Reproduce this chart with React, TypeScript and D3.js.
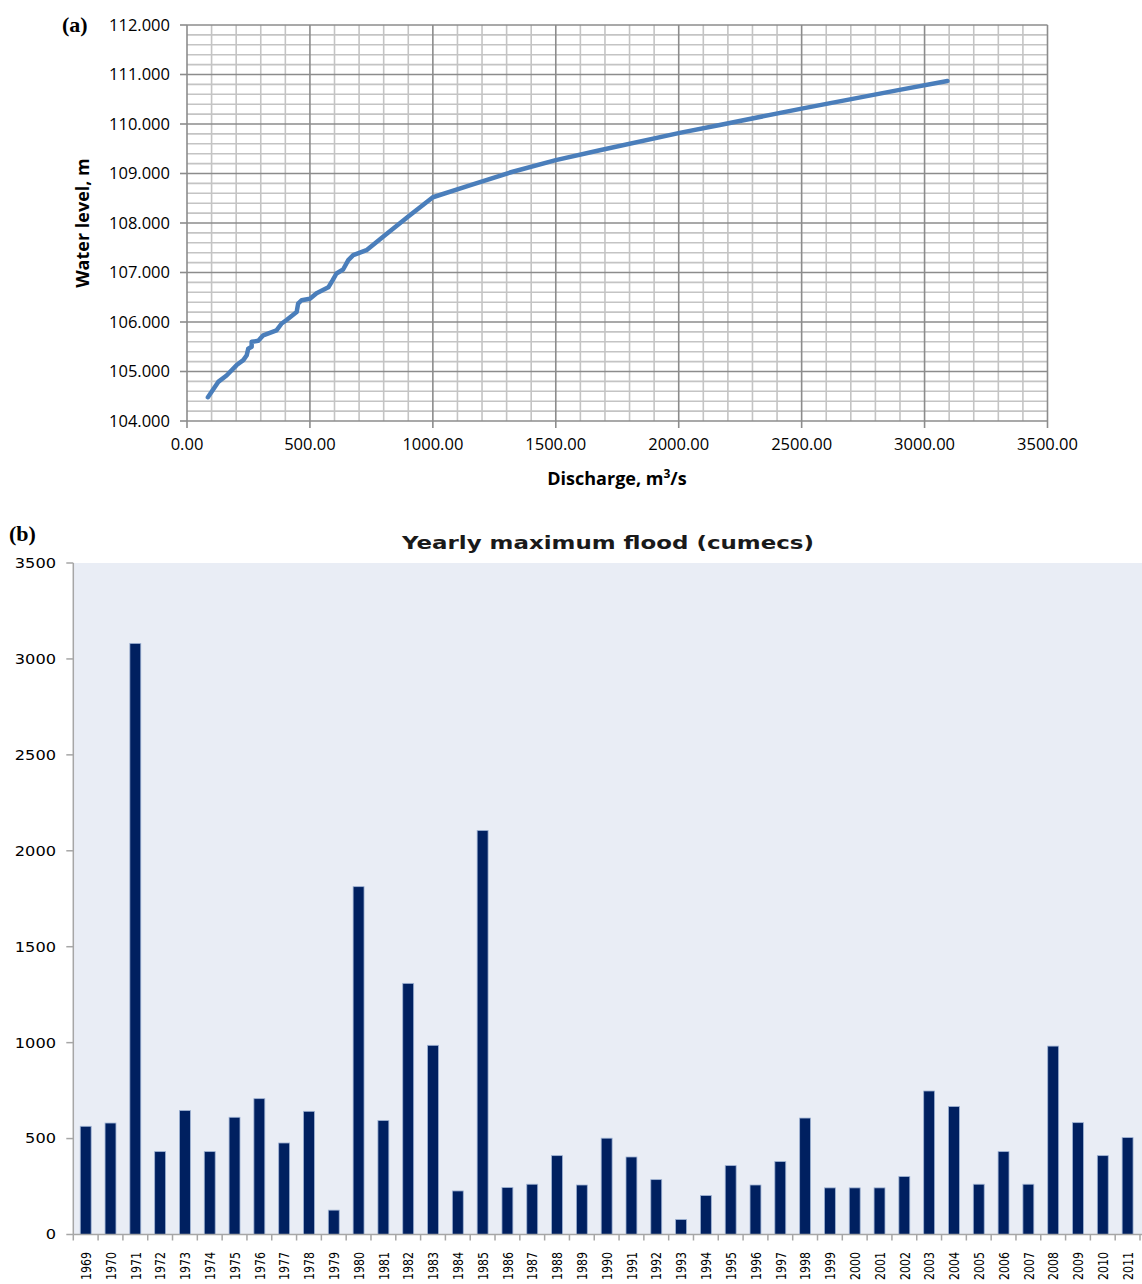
import React from "react";
import * as d3 from "d3";

// ---------- Chart (a): rating curve ----------
const discharge = [85, 127, 161, 202, 229, 243, 249, 263, 263, 290, 310, 364, 385, 405, 446, 452, 466, 500, 527, 575, 592, 608, 635, 656, 676, 730, 800, 900, 1000, 1150, 1321, 1500, 1679, 2004, 2167, 2500, 2898, 3093];
const waterLevel = [104.48, 104.79, 104.92, 105.13, 105.23, 105.33, 105.46, 105.5, 105.6, 105.62, 105.73, 105.83, 105.97, 106.04, 106.2, 106.37, 106.44, 106.47, 106.58, 106.7, 106.84, 106.98, 107.06, 107.25, 107.35, 107.45, 107.73, 108.13, 108.52, 108.76, 109.03, 109.27, 109.47, 109.82, 109.98, 110.31, 110.69, 110.87];
const xTicksA = [0, 500, 1000, 1500, 2000, 2500, 3000, 3500];
const yTicksA = [104, 105, 106, 107, 108, 109, 110, 111, 112];

// ---------- Chart (b): yearly maximum flood ----------
const years = d3.range(1969, 2012).map(String);
const floods = [564, 581, 3081, 432, 646, 432, 611, 708, 477, 642, 127, 1813, 594, 1309, 986, 227, 2106, 245, 262, 411, 258, 502, 404, 286, 78, 203, 359, 258, 380, 607, 243, 243, 243, 302, 748, 667, 262, 432, 262, 982, 583, 411, 505];
const yTicksB = [0, 500, 1000, 1500, 2000, 2500, 3000, 3500];

const fontA = "'Open Sans', 'Liberation Sans', sans-serif";
const fontB = "'DejaVu Sans', Verdana, sans-serif";

function ChartA() {
  const x = d3.scaleLinear().domain([0, 3500]).range([187, 1047.5]);
  const y = d3.scaleLinear().domain([104, 112]).range([421, 25]);
  const minorX = d3.range(0, 3501, 100).filter((v) => v % 500 !== 0);
  const minorY = d3.range(104, 112.001, 0.2).filter((v) => Math.abs(v - Math.round(v)) > 0.01);
  const pts: [number, number][] = discharge.map((q, i) => [q, waterLevel[i]]);
  const line = d3.line<[number, number]>().x((d) => x(d[0])).y((d) => y(d[1]));
  return (
    <g>
      {minorX.map((v) => (
        <line key={"mx" + v} x1={x(v)} x2={x(v)} y1={y(104)} y2={y(112)} stroke="#c4c4c4" strokeWidth={1.6} />
      ))}
      {minorY.map((v) => (
        <line key={"my" + v.toFixed(1)} x1={x(0)} x2={x(3500)} y1={y(v)} y2={y(v)} stroke="#c4c4c4" strokeWidth={1.6} />
      ))}
      {xTicksA.map((v) => (
        <line key={"Mx" + v} x1={x(v)} x2={x(v)} y1={y(104)} y2={y(112)} stroke="#8c8c8c" strokeWidth={1.6} />
      ))}
      {yTicksA.map((v) => (
        <line key={"My" + v} x1={x(0)} x2={x(3500)} y1={y(v)} y2={y(v)} stroke="#8c8c8c" strokeWidth={1.6} />
      ))}
      {yTicksA.map((v) => (
        <line key={"ty" + v} x1={x(0) - 7} x2={x(0)} y1={y(v)} y2={y(v)} stroke="#8c8c8c" strokeWidth={1.6} />
      ))}
      {xTicksA.map((v) => (
        <line key={"tx" + v} x1={x(v)} x2={x(v)} y1={y(104)} y2={y(104) + 7} stroke="#8c8c8c" strokeWidth={1.6} />
      ))}
      <path d={line(pts) || ""} fill="none" stroke="#4a7ebb" strokeWidth={4.5} strokeLinecap="round" strokeLinejoin="round" />
      {yTicksA.map((v) => (
        <text key={"ly" + v} x={170} y={y(v)} dy="0.36em" textAnchor="end" fontFamily={fontA} fontSize={16.5} fill="#000">
          {v.toFixed(3)}
        </text>
      ))}
      {xTicksA.map((v) => (
        <text key={"lx" + v} x={x(v)} y={444} dy="0.36em" textAnchor="middle" fontFamily={fontA} fontSize={16.5} fill="#000">
          {v.toFixed(2)}
        </text>
      ))}
      <text x={617} y={485} textAnchor="middle" fontFamily={fontA} fontSize={18} fontWeight="bold">
        Discharge, m<tspan fontSize={12} dy={-7}>3</tspan>
        <tspan dy={7}>/s</tspan>
      </text>
      <text transform="translate(89,223) rotate(-90)" textAnchor="middle" fontFamily={fontA} fontSize={18} fontWeight="bold">
        Water level, m
      </text>
      <text x={62} y={32} fontFamily="'Liberation Serif', 'Times New Roman', serif" fontSize={22} fontWeight="bold">
        (a)
      </text>
    </g>
  );
}

function ChartB() {
  const left = 73.3;
  const right = 1140;
  const x = d3.scaleBand<string>().domain(years).range([left, right]).padding(0);
  const y = d3.scaleLinear().domain([0, 3500]).range([1234.5, 563]);
  const bw = x.bandwidth() * 0.44;
  const digitW = 10.3;
  return (
    <g>
      <rect x={left} y={y(3500)} width={1142 - left} height={y(0) - y(3500)} fill="#e9edf5" />
      {floods.map((v, i) => {
        const cx = (x(years[i]) as number) + x.bandwidth() / 2;
        return (
          <rect key={years[i]} x={cx - bw / 2} y={y(v)} width={bw} height={y(0) - y(v)} fill="#002060" stroke="#9fb3d4" strokeWidth={0.8} />
        );
      })}
      <line x1={left} x2={left} y1={y(3500)} y2={y(0)} stroke="#a6a6a6" strokeWidth={1.5} />
      <line x1={left} x2={1142} y1={y(0)} y2={y(0)} stroke="#a6a6a6" strokeWidth={1.5} />
      {yTicksB.map((v) => (
        <line key={"tb" + v} x1={left - 7} x2={left} y1={y(v)} y2={y(v)} stroke="#a6a6a6" strokeWidth={1.5} />
      ))}
      {years.map((yr) => (
        <line key={"tk" + yr} x1={x(yr) as number} x2={x(yr) as number} y1={y(0)} y2={y(0) + 6} stroke="#a6a6a6" strokeWidth={1.5} />
      ))}
      <line x1={right} x2={right} y1={y(0)} y2={y(0) + 6} stroke="#a6a6a6" strokeWidth={1.5} />
      {yTicksB.map((v) => {
        const s = String(v);
        return (
          <text key={"lb" + v} x={56} y={y(v)} dy="0.36em" textAnchor="end" fontFamily={fontB} fontSize={13.5} fill="#000" textLength={s.length * digitW} lengthAdjust="spacingAndGlyphs">
            {s}
          </text>
        );
      })}
      {years.map((yr) => {
        const cx = (x(yr) as number) + x.bandwidth() / 2;
        return (
          <text key={"ly" + yr} transform={`translate(${cx},1252) rotate(-90)`} dy="0.36em" textAnchor="end" fontFamily={fontB} fontSize={14.5} fill="#000" textLength={28} lengthAdjust="spacingAndGlyphs">
            {yr}
          </text>
        );
      })}
      <text x={608} y={549} textAnchor="middle" fontFamily={fontB} fontSize={17.5} fontWeight="bold" fill="#1a1a1a" textLength={412} lengthAdjust="spacingAndGlyphs">
        Yearly maximum flood (cumecs)
      </text>
      <text x={9} y={541} fontFamily="'Liberation Serif', 'Times New Roman', serif" fontSize={22} fontWeight="bold">
        (b)
      </text>
    </g>
  );
}

export default function App() {
  return (
    <svg width={1142} height={1284} viewBox="0 0 1142 1284" style={{ position: "absolute", left: 0, top: 0, background: "#fff" }}>
      <ChartA />
      <ChartB />
    </svg>
  );
}
